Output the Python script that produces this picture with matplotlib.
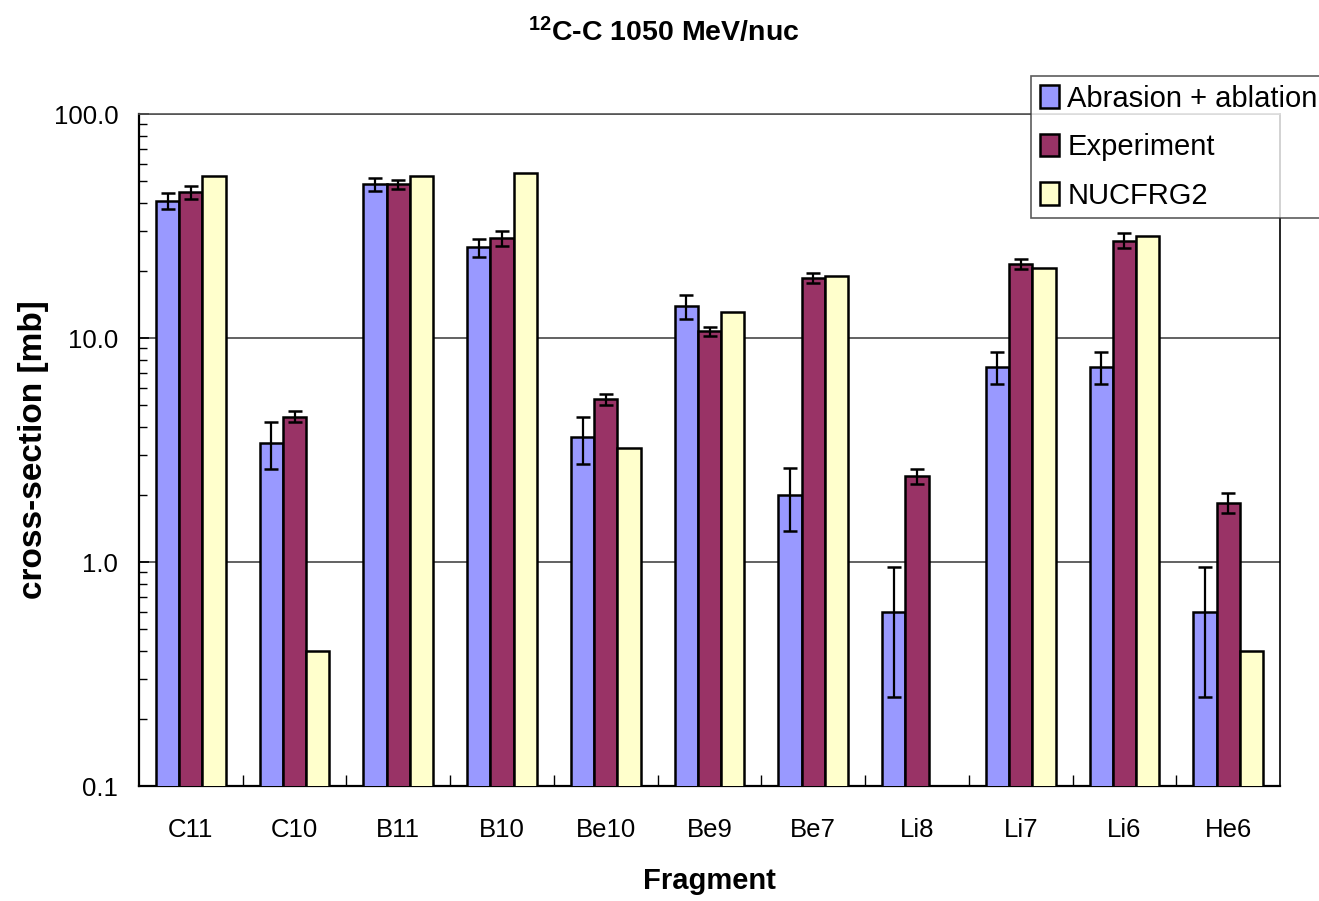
import numpy as np
import matplotlib
matplotlib.use("Agg")
import matplotlib.pyplot as plt
from matplotlib.ticker import FixedLocator, LogLocator, NullFormatter

plt.rcParams['font.family'] = ['Liberation Sans', 'DejaVu Sans']
plt.rcParams['mathtext.fontset'] = 'custom'
plt.rcParams['mathtext.bf'] = 'Liberation Sans:bold'
plt.rcParams['mathtext.rm'] = 'Liberation Sans'

# data (mb)
fragments = ["C11", "C10", "B11", "B10", "Be10", "Be9", "Be7", "Li8", "Li7", "Li6", "He6"]
abrasion = [41.0, 3.41, 48.7, 25.4, 3.60, 13.9, 2.00, 0.60, 7.42, 7.42, 0.60]
abrasion_err = [3.2, 0.82, 3.2, 2.3, 0.85, 1.7, 0.63, 0.35, 1.2, 1.2, 0.35]
experiment = [44.7, 4.45, 48.5, 27.9, 5.34, 10.7, 18.6, 2.41, 21.5, 27.2, 1.84]
experiment_err = [3.0, 0.25, 2.4, 2.2, 0.30, 0.5, 0.95, 0.18, 1.1, 2.1, 0.19]
nucfrg2 = [52.7, 0.40, 53.0, 54.3, 3.22, 13.1, 19.0, np.nan, 20.5, 28.6, 0.40]

labels = ["Abrasion + ablation", "Experiment", "NUCFRG2"]
colors = ["#9999FF", "#993366", "#FFFFCC"]

fig = plt.figure(figsize=(13.19, 9.01), dpi=100)
ax = fig.add_axes([139/1319, 1-786/901, (1280-139)/1319, (786-114)/901])

x = np.arange(len(fragments))
w = 0.224
ebar = dict(elinewidth=1.6, capsize=5, capthick=1.8, ecolor='black')
ax.bar(x - w, abrasion, w, yerr=abrasion_err, color=colors[0], edgecolor='black',
       linewidth=1.8, label=labels[0], error_kw=ebar, zorder=3)
ax.bar(x, experiment, w, yerr=experiment_err, color=colors[1], edgecolor='black',
       linewidth=1.8, label=labels[1], error_kw=ebar, zorder=3)
ax.bar(x + w, nucfrg2, w, color=colors[2], edgecolor='black',
       linewidth=1.8, label=labels[2], zorder=3)

ax.set_yscale('log')
ax.set_ylim(0.1, 100)
ax.set_xlim(-0.5, len(fragments) - 0.5)

ax.yaxis.set_major_locator(FixedLocator([0.1, 1, 10, 100]))
ax.set_yticklabels(["0.1", "1.0", "10.0", "100.0"])
ax.yaxis.set_minor_locator(LogLocator(base=10, subs=np.arange(2, 10)))
ax.yaxis.set_minor_formatter(NullFormatter())
ax.tick_params(axis='y', which='major', direction='in', length=7, width=1.2,
               labelsize=18.5, pad=15)
ax.tick_params(axis='y', which='minor', direction='in', length=6, width=1.0)
ax.grid(axis='y', which='major', color='#555555', linewidth=1.3, zorder=0)
ax.set_axisbelow(True)

# category labels at centers, tick marks at group boundaries
ax.set_xticks(x)
ax.set_xticklabels(fragments)
ax.set_xticks(np.arange(0.5, len(fragments) - 0.5, 1), minor=True)
ax.tick_params(axis='x', which='major', length=0, labelsize=18.5, pad=23)
ax.tick_params(axis='x', which='minor', direction='in', length=8, width=1.0)

for s in ['left', 'bottom']:
    ax.spines[s].set_linewidth(1.6)
    ax.spines[s].set_color('black')
ax.spines['right'].set_linewidth(1.2)
ax.spines['top'].set_linewidth(1.2)
ax.spines['top'].set_color('#555555')

ax.set_xlabel("Fragment", fontsize=21, fontweight='bold', labelpad=18)
ax.set_ylabel("cross-section [mb]", fontsize=24, fontweight='bold', labelpad=3)

fig.text(664/1319, 1-32/901, r"$\mathbf{^{12}}$C-C 1050 MeV/nuc", fontsize=20.5,
         fontweight='bold', ha='center', va='center')

leg = fig.legend(loc='upper left', bbox_to_anchor=(1031/1319, 1-76/901),
                 fontsize=21, frameon=True, fancybox=False, shadow=False,
                 handlelength=0.65, handleheight=0.8, handletextpad=0.3,
                 labelspacing=0.7, borderpad=0.3, borderaxespad=0)
leg.get_frame().set_edgecolor('#333333')
leg.get_frame().set_linewidth(1.2)

fig.savefig("out.png", dpi=100)
